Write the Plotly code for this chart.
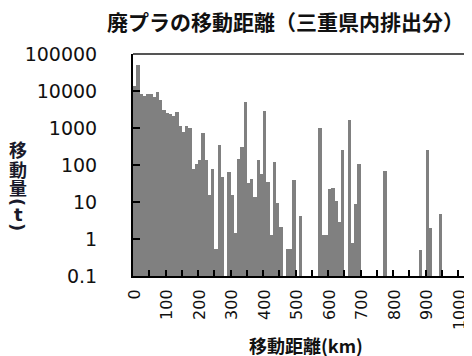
import plotly.graph_objects as go

# distance bins (km), 10 km each
distance_km = [10 * i for i in range(104)]

# transported amount (t) per bin; None = no transport
amount_t = [
    14000, 52000, 8500, 7200, 8200, 8200, 6800, 9300, 5800, 3100,
    2550, 2400, 2150, 2780, 1100, 790, 1160, 980, 80, 104,
    135, 720, 136, 15.5, 80, 0.55, 358, 47, None, 65,
    15, 1.42, 145, 305, 4900, 32, 43, 14, 140, 58,
    2940, 34, 1.25, 122, 9.5, 2.1, None, 0.55, 0.55, 40,
    None, 4.2, None, None, None, None, None, 1020, 1.28, 1.28,
    23, 24, 10.8, 2.9, 262, None, 1660, 0.8, 9.1, 108,
    None, None, None, None, None, None, None, 67, None, None,
    None, None, None, None, None, None, None, None, 0.5, None,
    258, 1.95, None, None, 4.7, None, None, None, None, None,
    None, None, None, None,
]

x_tick_vals = [0, 100, 200, 300, 400, 500, 600, 700, 800, 900, 1000]
x_tick_labels = ["0", "100", "200", "300", "400", "500", "600", "700", "800", "900", "1000"]
x_minor_ticks = [45 + 50 * k for k in range(21)]
y_tick_vals = [0.1, 1, 10, 100, 1000, 10000, 100000]
y_tick_labels = ["0.1", "1", "10", "100", "1000", "10000", "100000"]

title_text = "廃プラの移動距離（三重県内排出分）"
x_title = "移動距離(km)"
y_title_chars = ["移", "動", "量", "(", "t", ")"]
y_title_angles = [0, 0, 0, 90, 0, 90]

# page body has an 8px margin; figure is sized to fill the rest of the window
OFF = 8
W, H = 472 - OFF, 356 - OFF
L, R, T, B = 125, 0, 46, 80
PW = W - L - R
PH = H - T - B


def px(xs):
    return (xs - OFF - L) / PW


def py(ys):
    return (H - B - (ys - OFF)) / PH


fig = go.Figure(
    go.Bar(
        x=distance_km,
        y=amount_t,
        width=10,
        marker=dict(color="#808080", line=dict(width=0)),
        showlegend=False,
    )
)

tick_font = dict(family="DejaVu Sans", color="#111111")

fig.update_layout(
    width=W,
    height=H,
    margin=dict(l=L, r=R, t=T, b=B, autoexpand=False),
    paper_bgcolor="white",
    plot_bgcolor="white",
    bargap=0,
    xaxis=dict(
        automargin=False,
        range=[-5, 1038],
        tickmode="array",
        tickvals=x_tick_vals,
        ticktext=x_tick_labels,
        tickangle=-90,
        ticks="inside",
        ticklen=0,
        tickfont=dict(size=16, **tick_font),
        ticklabelstandoff=5,
        showline=True,
        linecolor="black",
        linewidth=2,
        showgrid=False,
        zeroline=False,
        minor=dict(
            tickmode="array",
            tickvals=x_minor_ticks,
            ticks="inside",
            ticklen=6,
            tickwidth=2,
            tickcolor="black",
            showgrid=False,
        ),
    ),
    yaxis=dict(
        automargin=False,
        type="log",
        range=[-1, 5],
        tickmode="array",
        tickvals=y_tick_vals,
        ticktext=y_tick_labels,
        ticks="inside",
        ticklen=7,
        tickwidth=2,
        tickcolor="black",
        tickfont=dict(size=19, **tick_font),
        ticklabelstandoff=30,
        showline=True,
        linecolor="black",
        linewidth=2,
        showgrid=False,
        zeroline=False,
    ),
    shapes=[
        dict(type="line", xref="paper", yref="paper", x0=0, x1=1, y0=1, y1=1,
             line=dict(color="#555555", width=2)),
    ],
)

annotations = [
    dict(text=f"<b>{title_text}</b>", x=px(285), y=py(21), xref="paper", yref="paper",
         xanchor="center", yanchor="middle", showarrow=False,
         font=dict(family="Noto Sans CJK JP", size=21, color="#111111")),
    dict(text=f"<b>{x_title}</b>", x=px(306), y=py(345), xref="paper", yref="paper",
         xanchor="center", yanchor="middle", showarrow=False,
         font=dict(family="Noto Sans CJK JP", size=18, color="#111111")),
]
y_char_pos = [149, 168.5, 187, 202, 214, 227]
for ch, ang, yy in zip(y_title_chars, y_title_angles, y_char_pos):
    fam = "Noto Sans CJK JP" if ch not in "()t" else "DejaVu Sans"
    annotations.append(
        dict(text=f"<b>{ch}</b>", x=px(18), y=py(yy), xref="paper", yref="paper",
             xanchor="center", yanchor="middle", showarrow=False, textangle=ang,
             font=dict(family=fam, size=18, color="#1a1a2a"))
    )
fig.update_layout(annotations=annotations)

fig.write_html("out.html")
